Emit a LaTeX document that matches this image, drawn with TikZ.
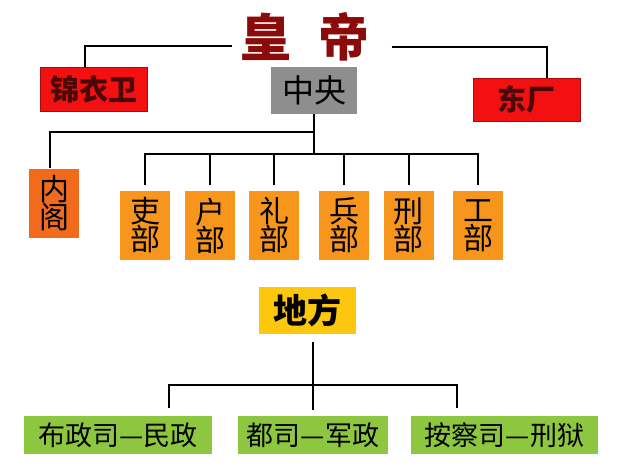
\documentclass[tikz,border=0pt]{standalone}
\usepackage{fontspec}
\setmainfont{Noto Sans CJK SC}
\newfontfamily\heavyfont{Noto Sans CJK SC Black}
\usetikzlibrary{positioning}
\definecolor{emperor}{HTML}{8B0B0B}
\definecolor{guard}{HTML}{F21010}
\definecolor{guardtext}{HTML}{4A0808}
\definecolor{central}{HTML}{8E8E8E}
\definecolor{cabinet}{HTML}{F26A1C}
\definecolor{ministry}{HTML}{F7951D}
\definecolor{local}{HTML}{FCC70F}
\definecolor{province}{HTML}{8DC63F}

\begin{document}
\begin{tikzpicture}[
  x=1pt, y=-1pt,
  box/.style={inner sep=0pt, align=center, text=black},
  guardbox/.style={box, fill=guard, draw=guard!70!black, line width=0.6pt,
                   minimum width=107pt, minimum height=44pt,
                   font=\heavyfont\fontsize{29}{29}\selectfont, text=guardtext},
  dept/.style={box, fill=ministry, minimum width=50pt, minimum height=69pt,
               font=\fontsize{30}{28}\selectfont},
  provbox/.style={box, fill=province, minimum height=38pt,
                  font=\fontsize{27}{27}\selectfont},
  link/.style={line width=2pt, black}
]
  \useasboundingbox (0,0) rectangle (640,471);

  \node[font=\heavyfont\fontsize{51}{51}\selectfont, text=emperor, inner xsep=8pt]
    (emperor) at (305,37) {皇\hspace{27pt}帝};

  \node[guardbox] (jinyiwei) at (93.5,89) {锦衣卫};
  \node[guardbox, minimum height=43pt] (dongchang) at (526.5,99.5) {东厂};
  \node[box, fill=central, minimum width=86pt, minimum height=47pt,
        font=\fontsize{32}{32}\selectfont] (zhongyang) at (314,90.5) {中央};

  \node[dept, fill=cabinet] (neige) at (54,203) {内\\阁};
  \node[dept] (personnel) at (145,225.5) {吏\\部};
  \node[dept] (revenue) at (210,225.5) {户\\部};
  \node[dept] (rites) at (274,225.5) {礼\\部};
  \node[dept] (war) at (344,225.5) {兵\\部};
  \node[dept] (justice) at (408.5,225.5) {刑\\部};
  \node[dept] (works) at (478,225.5) {工\\部};

  \node[box, fill=local, minimum width=97pt, minimum height=47pt,
        font=\bfseries\fontsize{34}{34}\selectfont] (difang) at (307.5,310.5) {地方};

  \node[provbox, minimum width=188pt] (buzheng) at (118,435) {布政司—民政};
  \node[provbox, minimum width=150pt] (dusi) at (313,435) {都司—军政};
  \node[provbox, minimum width=187pt] (anchasi) at (504.5,435) {按察司—刑狱};

  % emperor and the guards
  \draw[link] ([yshift=-9pt]emperor.west) -| ([xshift=-8.5pt]jinyiwei.north);
  \draw[link] ([xshift=14pt,yshift=-10pt]emperor.east) -| ([xshift=20.5pt]dongchang.north);

  % central government
  \draw[link] (zhongyang.south) -- ++(0,40) coordinate (zyhub);
  \draw[link] (zhongyang.south) ++(0,18) -| ([xshift=-4pt]neige.north);
  \draw[link] ([yshift=6pt]personnel.north) |- (zyhub) -| ([yshift=6pt]works.north);
  \foreach \m in {revenue,rites,war,justice}
    \draw[link] (\m.north |- zyhub) -- ([yshift=6pt]\m.north);

  % local government
  \draw[link] ([yshift=-8pt]dusi.north |- difang.south) -- ++(0,43) coordinate (dfhub)
    -- ([yshift=6pt]dusi.north);
  \draw[link] ([xshift=51pt,yshift=8pt]buzheng.north) |- (dfhub)
    -| ([xshift=-48pt,yshift=8pt]anchasi.north);
\end{tikzpicture}
\end{document}
